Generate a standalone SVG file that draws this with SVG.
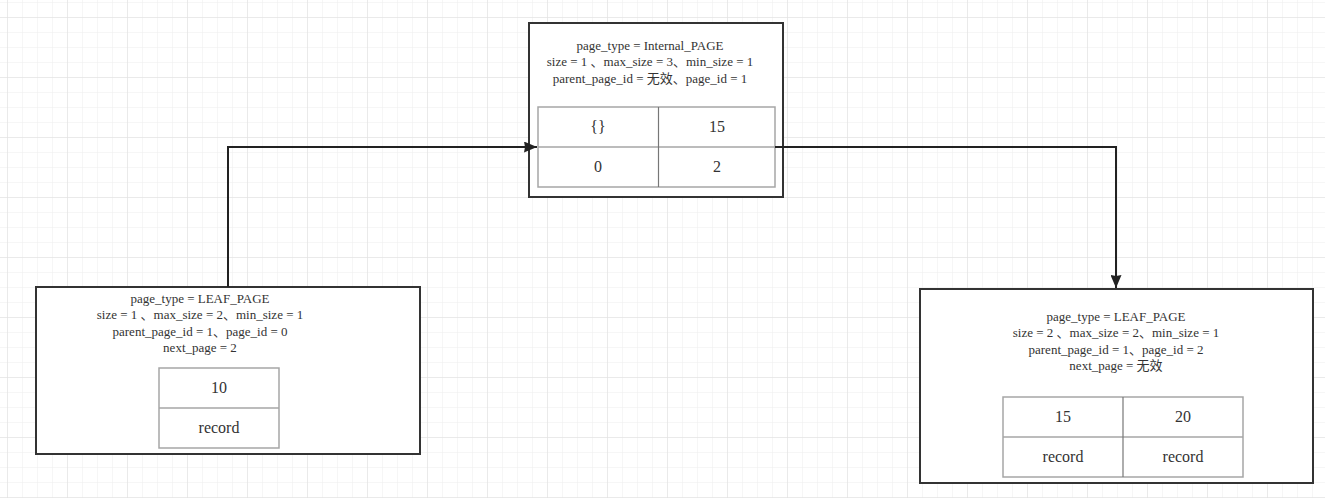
<svg xmlns="http://www.w3.org/2000/svg" width="1325" height="498" viewBox="0 0 1325 498">
<style>
.box{fill:#fff;stroke:#333;stroke-width:2}
.tbl{fill:#fff;stroke:#a6a6a6;stroke-width:1.5}
.div{stroke:#777;stroke-width:1.2;fill:none}
.hdiv{stroke:#a6a6a6;stroke-width:1.5;fill:none}
.h{font-family:"Liberation Serif","Noto Sans CJK SC",serif;font-size:13px;fill:#333;text-anchor:middle}
.c{font-family:"Liberation Serif","Noto Sans CJK SC",serif;font-size:16px;fill:#333;text-anchor:middle}
.conn{fill:none;stroke:#222;stroke-width:2}
</style>
<defs>
<pattern id="minor" x="7" y="2" width="15" height="15" patternUnits="userSpaceOnUse">
<path d="M0 0V15M0 0H15" stroke="#ededed" stroke-width="1" fill="none"/>
</pattern>
<pattern id="major" x="7" y="17" width="60" height="60" patternUnits="userSpaceOnUse">
<path d="M0 0V60M0 0H60" stroke="#dedede" stroke-width="1" fill="none"/>
</pattern>
<marker id="arr" viewBox="0 0 13 11" refX="13" refY="5.5" markerWidth="6.5" markerHeight="5.5" orient="auto" markerUnits="strokeWidth">
<path d="M0 0L13 5.5L0 11L1 5.5z" fill="#222"/>
</marker>
</defs>
<rect width="1325" height="498" fill="#fff"/>
<rect width="1325" height="498" fill="url(#minor)"/>
<rect width="1325" height="498" fill="url(#major)"/>

<g id="node-internal">
<rect class="box" x="529" y="23" width="254" height="174"/>
<text class="h" x="650" y="50">page_type = Internal_PAGE</text>
<text class="h" x="650" y="66">size = 1 、max_size = 3、min_size = 1</text>
<text class="h" x="650" y="83">parent_page_id = 无效、page_id = 1</text>
<rect class="tbl" x="538" y="107" width="237" height="80"/>
<line class="hdiv" x1="538" y1="147" x2="775" y2="147"/>
<line class="div" x1="658.5" y1="107" x2="658.5" y2="187"/>
<text class="c" x="598" y="132">{}</text>
<text class="c" x="717" y="132">15</text>
<text class="c" x="598" y="172">0</text>
<text class="c" x="717" y="172">2</text>
</g>

<g id="node-leaf0">
<rect class="box" x="36" y="287" width="384" height="167"/>
<text class="h" x="200" y="303">page_type = LEAF_PAGE</text>
<text class="h" x="200" y="319">size = 1 、max_size = 2、min_size = 1</text>
<text class="h" x="200" y="336">parent_page_id = 1、page_id = 0</text>
<text class="h" x="200" y="352">next_page = 2</text>
<rect class="tbl" x="159" y="368" width="120" height="80"/>
<line class="hdiv" x1="159" y1="408" x2="279" y2="408"/>
<text class="c" x="219" y="393">10</text>
<text class="c" x="219" y="433">record</text>
</g>

<g id="node-leaf2">
<rect class="box" x="920" y="289" width="393" height="194"/>
<text class="h" x="1116" y="321">page_type = LEAF_PAGE</text>
<text class="h" x="1116" y="337">size = 2 、max_size = 2、min_size = 1</text>
<text class="h" x="1116" y="354">parent_page_id = 1、page_id = 2</text>
<text class="h" x="1116" y="370">next_page = 无效</text>
<rect class="tbl" x="1003" y="397" width="240" height="80"/>
<line class="hdiv" x1="1003" y1="437" x2="1243" y2="437"/>
<line class="div" x1="1123" y1="397" x2="1123" y2="477"/>
<text class="c" x="1063" y="422">15</text>
<text class="c" x="1183" y="422">20</text>
<text class="c" x="1063" y="462">record</text>
<text class="c" x="1183" y="462">record</text>
</g>

<g id="connectors">
<path class="conn" d="M228 287V147H537" marker-end="url(#arr)"/>
<path class="conn" d="M775 147H1116V288" marker-end="url(#arr)"/>
</g>
</svg>
